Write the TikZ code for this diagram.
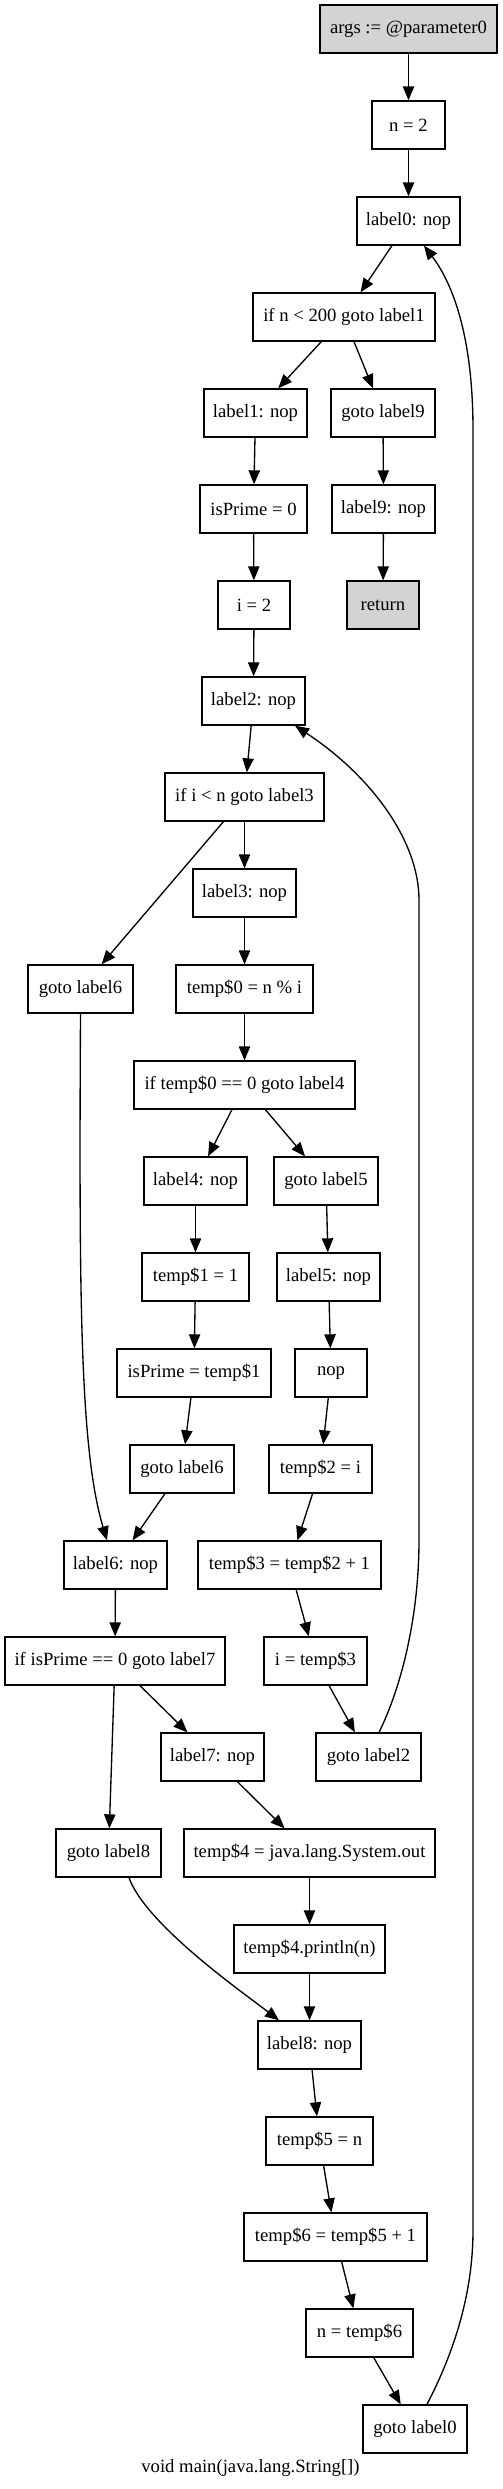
\documentclass[tikz,border=0pt]{standalone}
\usepackage{fontspec}
\setmainfont{Liberation Serif}
\usetikzlibrary{arrows.meta,calc}
\definecolor{termfill}{HTML}{D3D3D3}
\begin{document}
\begin{tikzpicture}[x=0.75pt,y=-0.75pt,
  box/.style={draw, line width=1pt, minimum height=36pt, inner sep=0pt,
    font=\fontsize{14}{16}\selectfont, minimum width=#1*0.75pt},
  term/.style={fill=termfill},
  edge/.style={-{Triangle[length=10.5pt,width=8.5pt]}, line width=1pt},
  caption/.style={font=\fontsize{14}{16}\selectfont, inner sep=0pt}]
\useasboundingbox (0,0) rectangle (503,2489);
% nodes
\node[box=177,term] (args) at (408.5,29) {args := @parameter0};
\node[box=73]  (n2)  at (408.5,125) {n = 2};
\node[box=103] (l0)  at (408.5,221) {label0: nop};
\node[box=182] (ifn) at (344,317) {if n < 200 goto label1};
\node[box=103] (l1)  at (255.5,413) {label1: nop};
\node[box=104] (g9)  at (383,413) {goto label9};
\node[box=107] (ip0) at (253.5,509) {isPrime = 0};
\node[box=103] (l9)  at (383.5,509) {label9: nop};
\node[box=72]  (i2)  at (254,605) {i = 2};
\node[box=72,term] (ret) at (383,605) {return};
\node[box=103] (l2)  at (253.5,701) {label2: nop};
\node[box=159] (ifi) at (244.5,797) {if i < n goto label3};
\node[box=103] (l3)  at (244.5,893) {label3: nop};
\node[box=105] (g6a) at (80.5,989) {goto label6};
\node[box=137] (t0)  at (244.5,989) {temp\$0 = n \% i};
\node[box=221] (ift0) at (244.5,1085) {if temp\$0 == 0 goto label4};
\node[box=103] (l4)  at (195.5,1181) {label4: nop};
\node[box=104] (g5)  at (326,1181) {goto label5};
\node[box=107] (t1)  at (195.5,1277) {temp\$1 = 1};
\node[box=103] (l5)  at (328.5,1277) {label5: nop};
\node[box=154] (ipt) at (194,1373) {isPrime = temp\$1};
\node[box=72]  (nop) at (331,1373) {nop};
\node[box=104] (g6b) at (182,1469) {goto label6};
\node[box=103] (t2)  at (320.5,1469) {temp\$2 = i};
\node[box=103] (l6)  at (115.5,1565) {label6: nop};
\node[box=183] (t3)  at (289.5,1565) {temp\$3 = temp\$2 + 1};
\node[box=220] (ifp) at (115,1661) {if isPrime == 0 goto label7};
\node[box=103] (it3) at (315.5,1661) {i = temp\$3};
\node[box=103] (l7)  at (212.5,1757) {label7: nop};
\node[box=105] (g2)  at (368.5,1757) {goto label2};
\node[box=105] (g8)  at (108.5,1853) {goto label8};
\node[box=251] (t4)  at (309.5,1853) {temp\$4 = java.lang.System.out};
\node[box=151] (pr)  at (309.5,1949) {temp\$4.println(n)};
\node[box=103] (l8)  at (309.5,2045) {label8: nop};
\node[box=107] (t5)  at (319.5,2141) {temp\$5 = n};
\node[box=183] (t6)  at (335.5,2237) {temp\$6 = temp\$5 + 1};
\node[box=107] (nt6) at (359.5,2333) {n = temp\$6};
\node[box=104] (g0)  at (415,2429) {goto label0};
\node[caption] (cap) at (250.5,2468) {void main(java.lang.String[])};
% straight edges
\draw[edge] (args) -- (n2);
\draw[edge] (n2) -- (l0);
\draw[edge] (l0) -- (ifn);
\draw[edge] (ifn) -- (l1);
\draw[edge] (ifn) -- (g9);
\draw[edge] (l1) -- (ip0);
\draw[edge] (g9) -- (l9);
\draw[edge] (l9) -- (ret);
\draw[edge] (ip0) -- (i2);
\draw[edge] (i2) -- (l2);
\draw[edge] (l2) -- (ifi);
\draw[edge] (ifi) -- (l3);
\draw[edge] (ifi) -- (g6a);
\draw[edge] (l3) -- (t0);
\draw[edge] (t0) -- (ift0);
\draw[edge] (ift0) -- (l4);
\draw[edge] (ift0) -- (g5);
\draw[edge] (l4) -- (t1);
\draw[edge] (t1) -- (ipt);
\draw[edge] (ipt) -- (g6b);
\draw[edge] (g6b) -- (l6);
\draw[edge] (g5) -- (l5);
\draw[edge] (l5) -- (nop);
\draw[edge] (nop) -- (t2);
\draw[edge] (t2) -- (t3);
\draw[edge] (t3) -- (it3);
\draw[edge] (it3) -- (g2);
\draw[edge] (l6) -- (ifp);
\draw[edge] (ifp) -- (g8);
\draw[edge] (ifp) -- (l7);
\draw[edge] (l7) -- (t4);
\draw[edge] (t4) -- (pr);
\draw[edge] (pr) -- (l8);
\draw[edge] (l8) -- (t5);
\draw[edge] (t5) -- (t6);
\draw[edge] (t6) -- (nt6);
\draw[edge] (nt6) -- (g0);
% curved edges
\draw[edge] (g6a.south) .. controls (79,1300) and (80,1450) .. ($(l6.north)+(-8.5,0)$);
\draw[edge] ($(g8.south)+(20.5,0)$) .. controls (146,1925) and (245,1994) .. ($(l8.north)+(-30.5,0)$);
\draw[edge] ($(g2.north)+(10.5,0)$) .. controls (400,1690) and (419,1620) .. (419,1540)
  -- (419,900) .. controls (419,840) and (370,775) .. ($(l2.south)+(41.5,0)$);
\draw[edge] ($(g0.north)+(12,0)$) .. controls (450,2360) and (473,2300) .. (473,2230)
  -- (473,430) .. controls (473,330) and (450,280) .. ($(l0.south)+(15.5,0)$);
\end{tikzpicture}
\end{document}
